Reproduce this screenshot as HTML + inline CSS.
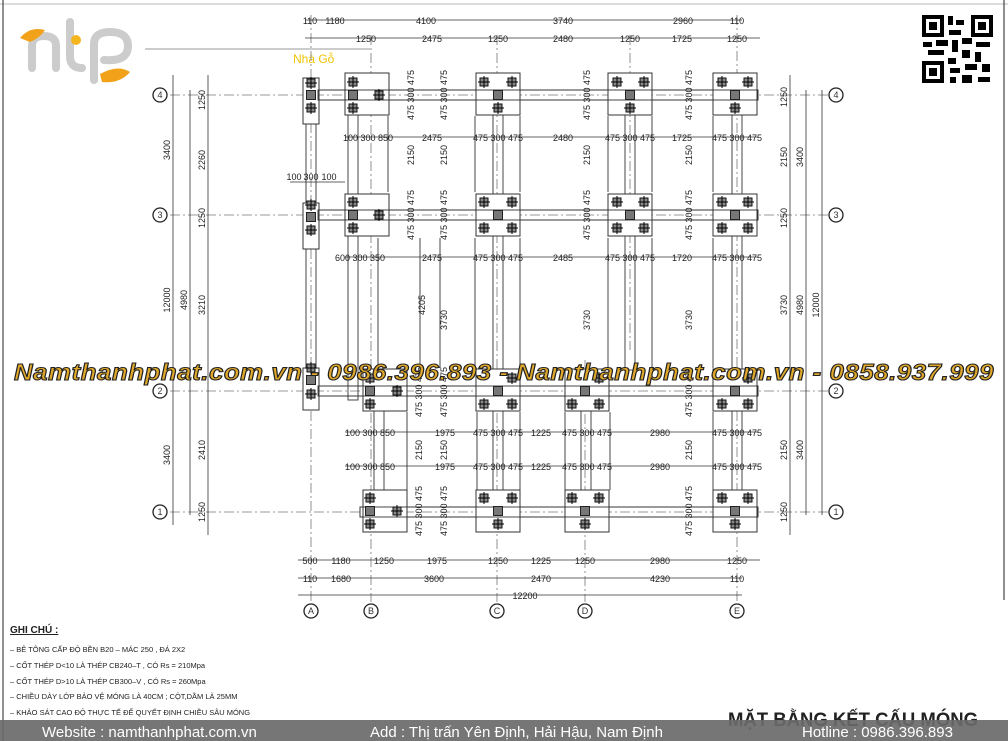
<!DOCTYPE html>
<html><head><meta charset="utf-8"><style>
html,body{margin:0;padding:0;background:#fff}
body{width:1008px;height:741px;overflow:hidden;position:relative;font-family:"Liberation Sans",sans-serif}
svg{position:absolute;left:0;top:0}
.d{font-size:9px;fill:#222;font-family:"Liberation Sans",sans-serif}
.wm{font-family:"Liberation Sans",sans-serif;font-weight:bold;font-style:italic;font-size:23px;fill:#e0a82a;stroke:#222;stroke-width:1.1px;letter-spacing:0.5px}
</style></head><body>
<svg width="1008" height="741" viewBox="0 0 1008 741" xmlns="http://www.w3.org/2000/svg">
<defs>
<g id="ft"><rect x="-22" y="-21" width="44" height="42" fill="#fff" stroke="#333" stroke-width="1"/></g>
<g id="cm"><rect x="-4" y="-4" width="8" height="8" fill="#888" stroke="#111"/><line x1="-6" y1="0" x2="6" y2="0" stroke="#000"/><line x1="0" y1="-6" x2="0" y2="6" stroke="#000"/></g>
<g id="cf"><rect x="-4.5" y="-4.5" width="9" height="9" fill="#777" stroke="#222"/></g>
</defs>
<line x1="0" y1="4" x2="1008" y2="4" stroke="#bbb"/>
<line x1="3" y1="0" x2="3" y2="741" stroke="#222"/>
<line x1="1004" y1="0" x2="1004" y2="600" stroke="#222"/>
<line x1="145" y1="49" x2="370" y2="49" stroke="#999"/>
<!-- logo -->
<g fill="none" stroke="#ccc" stroke-width="8" stroke-linecap="round">
<path d="M32 68 v-22 q0-10 12-10 q12 0 12 10 v22"/>
<path d="M70 22 v34 q0 12 12 12"/>
<path d="M94 80 v-36 q0-12 16-12 q18 0 18 14 q0 16-24 14"/>
</g>
<path d="M20 38 q10-12 25-8 q-5 8-15 12z" fill="#f2a219"/>
<path d="M100 74 q18-10 30-2 q-10 12-28 10z" fill="#f2a219"/>
<circle cx="76" cy="40" r="5" fill="#f5b51c"/>
<text x="293" y="63" font-size="12" fill="#f0c400" font-family="Liberation Sans">Nhà Gỗ</text>
<!-- QR -->
<rect x="922" y="15" width="71" height="68" fill="#fff"/>
<g fill="#000">
<rect x="922" y="15" width="22" height="22"/><rect x="926" y="19" width="14" height="14" fill="#fff"/><rect x="929" y="22" width="8" height="8"/>
<rect x="971" y="15" width="22" height="22"/><rect x="975" y="19" width="14" height="14" fill="#fff"/><rect x="978" y="22" width="8" height="8"/>
<rect x="922" y="61" width="22" height="22"/><rect x="926" y="65" width="14" height="14" fill="#fff"/><rect x="929" y="68" width="8" height="8"/>
<rect x="948" y="16" width="5" height="9"/><rect x="956" y="20" width="8" height="5"/><rect x="949" y="30" width="12" height="5"/>
<rect x="923" y="42" width="9" height="5"/><rect x="936" y="40" width="12" height="6"/><rect x="952" y="40" width="6" height="12"/><rect x="962" y="38" width="10" height="6"/>
<rect x="976" y="42" width="14" height="5"/><rect x="928" y="50" width="16" height="5"/><rect x="962" y="50" width="8" height="8"/><rect x="975" y="52" width="6" height="10"/>
<rect x="948" y="58" width="8" height="6"/><rect x="950" y="68" width="10" height="5"/><rect x="965" y="64" width="12" height="6"/><rect x="982" y="64" width="8" height="8"/>
<rect x="950" y="77" width="6" height="6"/><rect x="962" y="75" width="10" height="8"/><rect x="978" y="77" width="12" height="5"/>
</g>
<g stroke="#777" stroke-width="0.8" stroke-dasharray="10,3,2,3">
<line x1="170" y1="95" x2="830" y2="95"/><line x1="170" y1="215" x2="830" y2="215"/>
<line x1="170" y1="391" x2="830" y2="391"/><line x1="170" y1="512" x2="830" y2="512"/>
<line x1="311" y1="15" x2="311" y2="602"/><line x1="371" y1="35" x2="371" y2="602"/>
<line x1="497" y1="35" x2="497" y2="602"/><line x1="585" y1="360" x2="585" y2="602"/>
<line x1="630" y1="35" x2="630" y2="350"/><line x1="737" y1="15" x2="737" y2="602"/>
</g>
<g fill="#fff" stroke="#222" stroke-width="1.3">
<circle cx="160" cy="95" r="7"/><circle cx="160" cy="215" r="7"/><circle cx="160" cy="391" r="7"/><circle cx="160" cy="512" r="7"/>
<circle cx="836" cy="95" r="7"/><circle cx="836" cy="215" r="7"/><circle cx="836" cy="391" r="7"/><circle cx="836" cy="512" r="7"/>
<circle cx="311" cy="611" r="7"/><circle cx="371" cy="611" r="7"/><circle cx="497" cy="611" r="7"/><circle cx="585" cy="611" r="7"/><circle cx="737" cy="611" r="7"/>
</g>
<g font-size="9" fill="#333" text-anchor="middle" font-family="Liberation Sans">
<text x="160" y="98">4</text><text x="160" y="218">3</text><text x="160" y="394">2</text><text x="160" y="515">1</text>
<text x="836" y="98">4</text><text x="836" y="218">3</text><text x="836" y="394">2</text><text x="836" y="515">1</text>
<text x="311" y="614">A</text><text x="371" y="614">B</text><text x="497" y="614">C</text><text x="585" y="614">D</text><text x="737" y="614">E</text>
</g>
<g fill="none" stroke="#333" stroke-width="0.9">
<rect x="318" y="90" width="440" height="10"/><rect x="318" y="210" width="440" height="10"/>
<rect x="318" y="386" width="440" height="10"/><rect x="360" y="507" width="398" height="10"/>
<rect x="306" y="80" width="10" height="325"/>
<rect x="348" y="80" width="10" height="320"/><rect x="374" y="370" width="10" height="150"/>
<rect x="493" y="80" width="10" height="440"/><rect x="625" y="80" width="10" height="290"/>
<rect x="581" y="370" width="10" height="150"/><rect x="732" y="80" width="10" height="440"/>
<line x1="388" y1="116" x2="388" y2="192"/><line x1="475" y1="116" x2="475" y2="192"/>
<line x1="520" y1="116" x2="520" y2="192"/><line x1="608" y1="116" x2="608" y2="192"/>
<line x1="652" y1="116" x2="652" y2="192"/><line x1="713" y1="116" x2="713" y2="192"/>
<line x1="378" y1="238" x2="378" y2="368"/><line x1="420" y1="238" x2="420" y2="368"/>
<line x1="440" y1="238" x2="440" y2="368"/><line x1="475" y1="238" x2="475" y2="368"/>
<line x1="520" y1="238" x2="520" y2="368"/><line x1="608" y1="238" x2="608" y2="368"/>
<line x1="652" y1="238" x2="652" y2="368"/><line x1="713" y1="238" x2="713" y2="368"/>
<line x1="407" y1="412" x2="407" y2="490"/><line x1="520" y1="412" x2="520" y2="490"/>
<line x1="565" y1="412" x2="565" y2="490"/><line x1="610" y1="412" x2="610" y2="490"/>
<line x1="713" y1="412" x2="713" y2="490"/><line x1="477" y1="412" x2="477" y2="490"/>
</g>
<g fill="#fff" stroke="#333"><rect x="303" y="78" width="16" height="46"/><rect x="303" y="203" width="16" height="46"/><rect x="303" y="368" width="16" height="42"/></g>
<use href="#ft" x="367" y="94"/><use href="#ft" x="498" y="94"/><use href="#ft" x="630" y="94"/><use href="#ft" x="735" y="94"/>
<use href="#ft" x="367" y="215"/><use href="#ft" x="498" y="215"/><use href="#ft" x="630" y="215"/><use href="#ft" x="735" y="215"/>
<use href="#ft" x="385" y="390"/><use href="#ft" x="498" y="390"/><use href="#ft" x="587" y="390"/><use href="#ft" x="735" y="390"/>
<use href="#ft" x="385" y="511"/><use href="#ft" x="498" y="511"/><use href="#ft" x="587" y="511"/><use href="#ft" x="735" y="511"/>
<g fill="none" stroke="#333" stroke-width="0.9">
<rect x="318" y="90" width="440" height="10"/><rect x="318" y="210" width="440" height="10"/>
<rect x="318" y="386" width="440" height="10"/><rect x="360" y="507" width="398" height="10"/>
</g>
<use href="#cm" x="311" y="83"/><use href="#cf" x="311" y="95"/><use href="#cm" x="311" y="108"/>
<use href="#cm" x="311" y="205"/><use href="#cf" x="311" y="217"/><use href="#cm" x="311" y="230"/>
<use href="#cm" x="311" y="368"/><use href="#cf" x="311" y="380"/><use href="#cm" x="311" y="394"/>
<use href="#cm" x="353" y="82"/><use href="#cf" x="353" y="95"/><use href="#cm" x="353" y="108"/><use href="#cm" x="379" y="95"/>
<use href="#cm" x="353" y="202"/><use href="#cf" x="353" y="215"/><use href="#cm" x="353" y="228"/><use href="#cm" x="379" y="215"/>
<use href="#cm" x="484" y="82"/><use href="#cm" x="512" y="82"/><use href="#cf" x="498" y="95"/><use href="#cm" x="498" y="108"/>
<use href="#cm" x="484" y="202"/><use href="#cm" x="512" y="202"/><use href="#cf" x="498" y="215"/><use href="#cm" x="484" y="228"/><use href="#cm" x="512" y="228"/>
<use href="#cm" x="617" y="82"/><use href="#cm" x="644" y="82"/><use href="#cf" x="630" y="95"/><use href="#cm" x="630" y="108"/>
<use href="#cm" x="617" y="202"/><use href="#cm" x="644" y="202"/><use href="#cf" x="630" y="215"/><use href="#cm" x="617" y="228"/><use href="#cm" x="644" y="228"/>
<use href="#cm" x="722" y="82"/><use href="#cm" x="748" y="82"/><use href="#cf" x="735" y="95"/><use href="#cm" x="735" y="108"/>
<use href="#cm" x="722" y="202"/><use href="#cm" x="748" y="202"/><use href="#cf" x="735" y="215"/><use href="#cm" x="722" y="228"/><use href="#cm" x="748" y="228"/>
<use href="#cm" x="370" y="378"/><use href="#cf" x="370" y="391"/><use href="#cm" x="370" y="404"/><use href="#cm" x="397" y="391"/>
<use href="#cm" x="484" y="404"/><use href="#cm" x="512" y="404"/><use href="#cf" x="498" y="391"/><use href="#cm" x="512" y="378"/>
<use href="#cm" x="572" y="404"/><use href="#cm" x="599" y="404"/><use href="#cf" x="585" y="391"/><use href="#cm" x="599" y="378"/>
<use href="#cm" x="722" y="404"/><use href="#cm" x="748" y="404"/><use href="#cf" x="735" y="391"/><use href="#cm" x="748" y="378"/>
<use href="#cm" x="370" y="498"/><use href="#cf" x="370" y="511"/><use href="#cm" x="370" y="524"/><use href="#cm" x="397" y="511"/>
<use href="#cm" x="484" y="498"/><use href="#cm" x="512" y="498"/><use href="#cf" x="498" y="511"/><use href="#cm" x="498" y="524"/>
<use href="#cm" x="572" y="498"/><use href="#cm" x="599" y="498"/><use href="#cf" x="585" y="511"/><use href="#cm" x="585" y="524"/>
<use href="#cm" x="722" y="498"/><use href="#cm" x="748" y="498"/><use href="#cf" x="735" y="511"/><use href="#cm" x="735" y="524"/>
<g stroke="#333" stroke-width="0.8">
<line x1="305" y1="20" x2="742" y2="20"/><line x1="305" y1="38" x2="760" y2="38"/>
<line x1="345" y1="137" x2="758" y2="137"/><line x1="345" y1="257" x2="758" y2="257"/>
<line x1="345" y1="432" x2="758" y2="432"/><line x1="345" y1="466" x2="758" y2="466"/>
<line x1="298" y1="560" x2="760" y2="560"/><line x1="298" y1="578" x2="742" y2="578"/><line x1="298" y1="595" x2="742" y2="595"/>
<line x1="173" y1="75" x2="173" y2="525"/><line x1="190" y1="90" x2="190" y2="515"/><line x1="208" y1="75" x2="208" y2="535"/>
<line x1="790" y1="75" x2="790" y2="535"/><line x1="806" y1="90" x2="806" y2="515"/><line x1="822" y1="90" x2="822" y2="515"/>
<line x1="290" y1="182" x2="345" y2="182"/>
</g>
<g class="d" text-anchor="middle">
<text x="310" y="24">110</text><text x="335" y="24">1180</text><text x="426" y="24">4100</text><text x="563" y="24">3740</text><text x="683" y="24">2960</text><text x="737" y="24">110</text>
<text x="366" y="42">1250</text><text x="432" y="42">2475</text><text x="498" y="42">1250</text><text x="563" y="42">2480</text><text x="630" y="42">1250</text><text x="682" y="42">1725</text><text x="737" y="42">1250</text>
<text x="368" y="141">100 300 850</text><text x="432" y="141">2475</text><text x="498" y="141">475 300 475</text><text x="563" y="141">2480</text><text x="630" y="141">475 300 475</text><text x="682" y="141">1725</text><text x="737" y="141">475 300 475</text>
<text x="360" y="261">600 300 350</text><text x="432" y="261">2475</text><text x="498" y="261">475 300 475</text><text x="563" y="261">2485</text><text x="630" y="261">475 300 475</text><text x="682" y="261">1720</text><text x="737" y="261">475 300 475</text>
<text x="370" y="436">100 300 850</text><text x="445" y="436">1975</text><text x="498" y="436">475 300 475</text><text x="541" y="436">1225</text><text x="587" y="436">475 300 475</text><text x="660" y="436">2980</text><text x="737" y="436">475 300 475</text>
<text x="370" y="470">100 300 850</text><text x="445" y="470">1975</text><text x="498" y="470">475 300 475</text><text x="541" y="470">1225</text><text x="587" y="470">475 300 475</text><text x="660" y="470">2980</text><text x="737" y="470">475 300 475</text>
<text x="310" y="564">500</text><text x="341" y="564">1180</text><text x="384" y="564">1250</text><text x="437" y="564">1975</text><text x="498" y="564">1250</text><text x="541" y="564">1225</text><text x="585" y="564">1250</text><text x="660" y="564">2980</text><text x="737" y="564">1250</text>
<text x="310" y="582">110</text><text x="341" y="582">1680</text><text x="434" y="582">3600</text><text x="541" y="582">2470</text><text x="660" y="582">4230</text><text x="737" y="582">110</text>
<text x="525" y="599">12200</text>
<text x="294" y="180">100</text><text x="311" y="180">300</text><text x="329" y="180">100</text>
</g>
<g class="d" text-anchor="middle">
<text transform="translate(170,150) rotate(-90)">3400</text><text transform="translate(170,300) rotate(-90)">12000</text><text transform="translate(187,300) rotate(-90)">4980</text><text transform="translate(170,455) rotate(-90)">3400</text>
<text transform="translate(205,100) rotate(-90)">1250</text><text transform="translate(205,160) rotate(-90)">2260</text><text transform="translate(205,218) rotate(-90)">1250</text><text transform="translate(205,305) rotate(-90)">3210</text><text transform="translate(205,450) rotate(-90)">2410</text><text transform="translate(205,512) rotate(-90)">1250</text>
<text transform="translate(787,97) rotate(-90)">1250</text><text transform="translate(787,157) rotate(-90)">2150</text><text transform="translate(787,218) rotate(-90)">1250</text><text transform="translate(787,305) rotate(-90)">3730</text><text transform="translate(787,450) rotate(-90)">2150</text><text transform="translate(787,512) rotate(-90)">1250</text>
<text transform="translate(803,157) rotate(-90)">3400</text><text transform="translate(803,305) rotate(-90)">4980</text><text transform="translate(803,450) rotate(-90)">3400</text><text transform="translate(819,305) rotate(-90)">12000</text>
<text transform="translate(414,95) rotate(-90)">475 300 475</text><text transform="translate(447,95) rotate(-90)">475 300 475</text><text transform="translate(590,95) rotate(-90)">475 300 475</text><text transform="translate(692,95) rotate(-90)">475 300 475</text>
<text transform="translate(414,215) rotate(-90)">475 300 475</text><text transform="translate(447,215) rotate(-90)">475 300 475</text><text transform="translate(590,215) rotate(-90)">475 300 475</text><text transform="translate(692,215) rotate(-90)">475 300 475</text>
<text transform="translate(414,155) rotate(-90)">2150</text><text transform="translate(447,155) rotate(-90)">2150</text><text transform="translate(590,155) rotate(-90)">2150</text><text transform="translate(692,155) rotate(-90)">2150</text>
<text transform="translate(425,305) rotate(-90)">4205</text><text transform="translate(447,320) rotate(-90)">3730</text><text transform="translate(590,320) rotate(-90)">3730</text><text transform="translate(692,320) rotate(-90)">3730</text>
<text transform="translate(422,392) rotate(-90)">475 300 475</text><text transform="translate(447,392) rotate(-90)">475 300 475</text><text transform="translate(692,392) rotate(-90)">475 300 475</text>
<text transform="translate(422,450) rotate(-90)">2150</text><text transform="translate(447,450) rotate(-90)">2150</text><text transform="translate(692,450) rotate(-90)">2150</text>
<text transform="translate(422,511) rotate(-90)">475 300 475</text><text transform="translate(447,511) rotate(-90)">475 300 475</text><text transform="translate(692,511) rotate(-90)">475 300 475</text>
</g>
<text class="wm" x="14" y="380" textLength="980" lengthAdjust="spacingAndGlyphs">Namthanhphat.com.vn - 0986.396.893 - Namthanhphat.com.vn - 0858.937.999</text>
<g font-family="Liberation Sans" fill="#222">
<text x="10" y="633" font-size="10" font-weight="bold" text-decoration="underline">GHI CHÚ :</text>
<g font-size="7.5">
<text x="10" y="652">– BÊ TÔNG CẤP ĐỘ BỀN B20 – MÁC 250 , ĐÁ 2X2</text>
<text x="10" y="668">– CỐT THÉP D&lt;10 LÀ THÉP CB240–T , CÓ Rs = 210Mpa</text>
<text x="10" y="684">– CỐT THÉP D&gt;10 LÀ THÉP CB300–V , CÓ Rs = 260Mpa</text>
<text x="10" y="699">– CHIỀU DÀY LỚP BẢO VỆ MÓNG LÀ 40CM ; CỘT,DẦM LÀ 25MM</text>
<text x="10" y="715">– KHẢO SÁT CAO ĐỘ THỰC TẾ ĐỂ QUYẾT ĐỊNH CHIỀU SÂU MÓNG</text>
</g>
<text x="728" y="726" font-size="19" font-weight="bold" textLength="250" lengthAdjust="spacingAndGlyphs">MẶT BẰNG KẾT CẤU MÓNG</text>
</g>
<rect x="0" y="720" width="1008" height="21" fill="#6a6a6a" opacity="0.92"/>
<g font-family="Liberation Sans" font-size="15" fill="#fff">
<text x="42" y="737">Website : namthanhphat.com.vn</text>
<text x="370" y="737">Add : Thị trấn Yên Định, Hải Hậu, Nam Định</text>
<text x="802" y="737">Hotline : 0986.396.893</text>
</g>
</svg>
</body></html>
